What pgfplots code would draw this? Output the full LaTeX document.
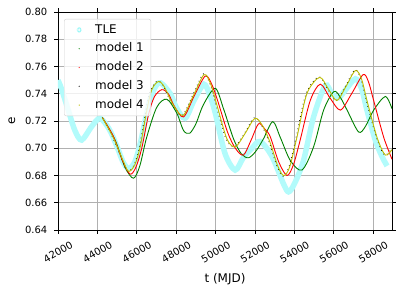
\documentclass[border=0pt]{standalone}
\usepackage{fontspec}
\setmainfont{DejaVu Sans}
\usepackage{pgfplots}
\pgfplotsset{compat=1.18}
\definecolor{mgreen}{rgb}{0,0.5,0}
\definecolor{myellow}{rgb}{0.75,0.75,0}
\definecolor{tle}{rgb}{0.70,0.985,0.985}
\definecolor{tlemark}{rgb}{0.55,0.97,0.97}
\definecolor{gridc}{rgb}{0.69,0.69,0.69}
\begin{document}
\begin{tikzpicture}
\begin{axis}[
  scale only axis, width=334bp, height=218bp,
  xmin=42000, xmax=58950, ymin=0.64, ymax=0.80,
  xtick={42000,44000,46000,48000,50000,52000,54000,56000,58000},
  ytick={0.64,0.66,0.68,0.70,0.72,0.74,0.76,0.78,0.80},
  scaled x ticks=false, scaled y ticks=false,
  /pgf/number format/assume math mode=true,
  /pgf/number format/1000 sep={},
  y tick label style={/pgf/number format/fixed, /pgf/number format/fixed zerofill, /pgf/number format/precision=2, anchor=east, inner sep=0pt, xshift=-7bp},
  x tick label style={xshift=12bp, yshift=-7bp, rotate=30, anchor=north east, inner sep=0pt},
  tick label style={font=\fontsize{10}{12}\selectfont},
  tick align=outside, major tick length=3.5bp,
  tick style={black, line width=0.8bp},
  axis line style={line width=0.8bp},
  grid=major, grid style={color=gridc, line width=0.8bp},
  xlabel={t (MJD)}, ylabel={e},
  xlabel style={font=\fontsize{12}{14}\selectfont, at={(axis description cs:0.5,-0.224)}, anchor=center},
  ylabel style={font=\fontsize{12}{14}\selectfont, at={(axis description cs:-0.138,0.5)}, anchor=center},
  legend style={at={(0.018,0.968)}, anchor=north west, draw=gridc!60, rounded corners=2bp,
    fill=white, fill opacity=0.8, text opacity=1, font=\fontsize{12}{14}\selectfont,
    inner xsep=3bp, inner ysep=3bp, row sep=3.3bp,
    nodes={text height=9bp, text depth=2.5bp, inner ysep=2bp, inner xsep=4bp}},
  legend cell align=left,
]
\addlegendimage{legend image code/.code={\path[draw=none,fill=none] (0,0) rectangle (24bp,0);
    \draw[tlemark, fill=none, line width=0.7bp] (12bp,0) +(-2.3bp,0) -- +(0,3bp) -- +(2.3bp,0) -- +(0,-3bp) -- cycle;}}
\addlegendentry{TLE}
\addlegendimage{legend image code/.code={\path[draw=none,fill=none] (0,0) rectangle (24bp,0); \path[draw=none, fill=mgreen] (12bp,0) circle (0.7bp);}}
\addlegendentry{model 1}
\addlegendimage{legend image code/.code={\path[draw=none,fill=none] (0,0) rectangle (24bp,0); \path[draw=none, fill=red] (12bp,0) circle (0.7bp);}}
\addlegendentry{model 2}
\addlegendimage{legend image code/.code={\path[draw=none,fill=none] (0,0) rectangle (24bp,0); \path[draw=none, fill=black] (12bp,0) circle (0.7bp);}}
\addlegendentry{model 3}
\addlegendimage{legend image code/.code={\path[draw=none,fill=none] (0,0) rectangle (24bp,0); \path[draw=none, fill=myellow] (12bp,0) circle (0.7bp);}}
\addlegendentry{model 4}
\addplot[tle, line width=5.5bp, smooth, forget plot]
coordinates {(42000,0.750)(42190,0.743)(42520,0.728)(42860,0.713)(43200,0.706)(43710,0.716)(44130,0.722)(44600,0.714)(45000,0.701)(45300,0.690)(45580,0.685)(45900,0.690)(46200,0.705)(46600,0.732)(46900,0.744)(47200,0.748)(47700,0.740)(48000,0.730)(48450,0.722)(48900,0.735)(49400,0.747)(49700,0.739)(49980,0.726)(50480,0.696)(50990,0.684)(51400,0.693)(51840,0.700)(52260,0.705)(52860,0.694)(53440,0.674)(53700,0.668)(54000,0.674)(54460,0.691)(54970,0.723)(55560,0.746)(55900,0.740)(56240,0.737)(56600,0.743)(57090,0.751)(57400,0.744)(57680,0.728)(58100,0.706)(58440,0.694)(58700,0.687)};
\addplot[mgreen, line width=0.9bp, smooth, forget plot]
coordinates {(44250,0.7225)(44900,0.706)(45400,0.686)(45830,0.678)(46150,0.687)(46500,0.708)(47010,0.730)(47520,0.736)(48030,0.7257)(48370,0.713)(48680,0.711)(49000,0.718)(49380,0.732)(49980,0.744)(50400,0.729)(50905,0.707)(51300,0.696)(51670,0.693)(52050,0.698)(52430,0.707)(52900,0.7195)(53280,0.708)(53790,0.691)(54380,0.684)(54970,0.701)(55480,0.728)(55990,0.7415)(56300,0.738)(56670,0.728)(57250,0.712)(57600,0.716)(58020,0.728)(58610,0.738)(58950,0.729)};
\addplot[red, line width=0.9bp, smooth, forget plot]
coordinates {(44250,0.7225)(44800,0.709)(45300,0.690)(45660,0.681)(45950,0.686)(46250,0.700)(46600,0.725)(46900,0.738)(47270,0.743)(47600,0.740)(47900,0.731)(48370,0.723)(48900,0.738)(49470,0.753)(49800,0.747)(50100,0.735)(50600,0.712)(51000,0.700)(51410,0.695)(51800,0.706)(52180,0.718)(52500,0.714)(52770,0.7085)(53200,0.690)(53620,0.680)(53950,0.688)(54290,0.706)(54800,0.735)(55310,0.747)(55800,0.737)(56330,0.728)(56900,0.740)(57480,0.754)(57750,0.749)(58020,0.735)(58530,0.708)(58950,0.692)};
\addplot[black, line width=1.0bp, smooth, dash pattern=on 0.7bp off 3.5bp, forget plot]
coordinates {(44250,0.7225)(44780,0.708)(45270,0.691)(45550,0.683)(45870,0.688)(46130,0.701)(46470,0.728)(46720,0.743)(47070,0.7495)(47370,0.745)(47770,0.733)(48300,0.724)(48810,0.738)(49380,0.7545)(49720,0.747)(50020,0.732)(50530,0.707)(50970,0.701)(51470,0.711)(51970,0.7225)(52370,0.716)(52730,0.704)(53110,0.687)(53420,0.6795)(53720,0.686)(54085,0.708)(54590,0.740)(55240,0.7525)(55670,0.744)(56120,0.735)(56570,0.745)(57060,0.7575)(57370,0.751)(57650,0.735)(58160,0.708)(58580,0.695)(58950,0.700)};
\addplot[myellow, line width=0.9bp, smooth, forget plot]
coordinates {(44250,0.7225)(44800,0.708)(45300,0.691)(45580,0.683)(45900,0.688)(46170,0.701)(46510,0.728)(46760,0.743)(47100,0.749)(47400,0.745)(47800,0.733)(48330,0.724)(48850,0.738)(49410,0.754)(49750,0.747)(50060,0.732)(50570,0.707)(51000,0.701)(51500,0.711)(52000,0.722)(52400,0.716)(52770,0.704)(53150,0.687)(53450,0.680)(53750,0.686)(54125,0.708)(54630,0.740)(55270,0.752)(55700,0.744)(56150,0.735)(56600,0.745)(57090,0.757)(57400,0.751)(57680,0.735)(58190,0.708)(58610,0.695)(58950,0.699)};
\end{axis}
\pgfresetboundingbox
\path[use as bounding box] ([shift={(-58bp,-61bp)}]current axis.south west) rectangle ([shift={(7bp,12bp)}]current axis.north east);
\end{tikzpicture}
\end{document}
